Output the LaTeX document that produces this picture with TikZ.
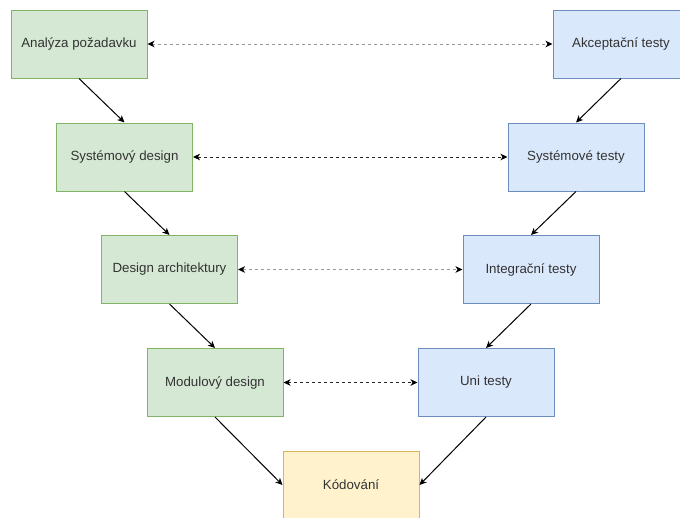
\documentclass[tikz,border=0pt]{standalone}
\usepackage{fontspec}
\setmainfont{Liberation Sans}
\usetikzlibrary{arrows.meta}
\definecolor{gfill}{HTML}{D5E8D4}
\definecolor{gdraw}{HTML}{82B366}
\definecolor{bfill}{HTML}{DAE8FC}
\definecolor{bdraw}{HTML}{6C8EBF}
\definecolor{yfill}{HTML}{FFF2CC}
\definecolor{ydraw}{HTML}{D6B656}
\definecolor{txt}{HTML}{333333}
\definecolor{lgray}{HTML}{999999}
\begin{document}
\begin{tikzpicture}[x=1pt,y=-1pt,
  box/.style={draw, line width=1pt, minimum width=136pt, minimum height=68pt, inner sep=0pt, text=txt, font=\fontsize{13.3}{15}\selectfont},
  gbox/.style={box, fill=gfill, draw=gdraw},
  bbox/.style={box, fill=bfill, draw=bdraw},
  ybox/.style={box, fill=yfill, draw=ydraw},
  tip/.style={-{Stealth[length=7pt,width=6.5pt,inset=2pt]}},
  solidarr/.style={tip, line width=1pt, black},
  dasharr/.style={{Stealth[length=7pt,width=6.5pt,inset=2pt,color=black]}-{Stealth[length=7pt,width=6.5pt,inset=2pt,color=black]}, line width=1pt, dash pattern=on 3pt off 3pt},
  lightdash/.style={dasharr, draw=lgray},
  darkdash/.style={dasharr, draw=black!85}
]
\useasboundingbox (0,0) rectangle (680,517);
\begin{scope}
\clip (0,0) rectangle (680,517);
\node[gbox] (a1) at (79,44) {Analýza požadavku};
\node[gbox] (a2) at (124.5,157) {Systémový design};
\node[gbox] (a3) at (169.5,269.5) {Design architektury};
\node[gbox] (a4) at (215,382.5) {Modulový design};
\node[ybox] (k) at (351,485) {Kódování};
\node[bbox] (b1) at (621,44) {Akceptační testy};
\node[bbox] (b2) at (576,157) {Systémové testy};
\node[bbox] (b3) at (531,269.5) {Integrační testy};
\node[bbox] (b4) at (486,382.5) {Uni testy};

\draw[solidarr] (a1.south) -- (a2.north);
\draw[solidarr] (a2.south) -- (a3.north);
\draw[solidarr] (a3.south) -- (a4.north);
\draw[solidarr] (a4.south) -- (k.west);
\draw[solidarr] (b1.south) -- (b2.north);
\draw[solidarr] (b2.south) -- (b3.north);
\draw[solidarr] (b3.south) -- (b4.north);
\draw[solidarr] (b4.south) -- (k.east);

\draw[lightdash] (a1.east) -- (b1.west);
\draw[darkdash] (a2.east) -- (b2.west);
\draw[lightdash] (a3.east) -- (b3.west);
\draw[darkdash] (a4.east) -- (b4.west);
\end{scope}
\end{tikzpicture}
\end{document}
